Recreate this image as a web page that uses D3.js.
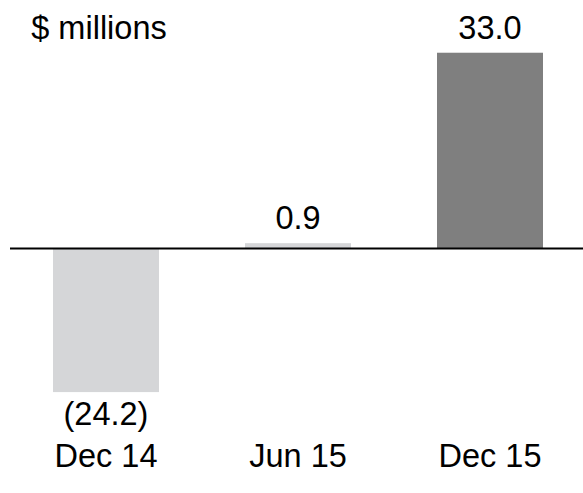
<!DOCTYPE html>
<html><head><meta charset="utf-8">
<script src="https://cdn.jsdelivr.net/npm/d3@7"></script>
<style>html,body{margin:0;padding:0;background:#fff;}svg{display:block;}</style>
</head><body><svg id="c" width="583" height="493"></svg>
<script>
const categories = ["Dec 14", "Jun 15", "Dec 15"];
const values = [-24.2, 0.9, 33.0];
const colors = ["#d5d6d8", "#d5d6d8", "#7f7f7f"];
const unitLabel = "$ millions";

const svg = d3.select("#c");
const font = "Liberation Sans, Arial, sans-serif";
const fs = 32.5;

const x = d3.scaleBand().domain(categories).range([10, 586]).paddingInner(0.448).paddingOuter(0.224);
const y = d3.scaleLinear().domain([-30, 40]).range([426.5, 11.2]);

const fmt = v => v < 0 ? "(" + d3.format(".1f")(-v) + ")" : d3.format(".1f")(v);

svg.selectAll("rect.bar").data(values).join("rect")
  .attr("class", "bar")
  .attr("x", (d, i) => x(categories[i]))
  .attr("width", x.bandwidth())
  .attr("y", d => y(Math.max(0, d)))
  .attr("height", d => Math.abs(y(d) - y(0)))
  .attr("fill", (d, i) => colors[i]);

svg.append("line")
  .attr("x1", 10).attr("x2", 583)
  .attr("y1", y(0)).attr("y2", y(0))
  .attr("stroke", "#000").attr("stroke-width", 2);

svg.selectAll("text.val").data(values).join("text")
  .attr("class", "val")
  .attr("x", (d, i) => x(categories[i]) + x.bandwidth() / 2)
  .attr("y", d => d >= 0 ? y(d) - 14 : y(d) + 33)
  .attr("text-anchor", "middle")
  .attr("font-family", font).attr("font-size", fs).attr("fill", "#000")
  .text(d => fmt(d));

svg.selectAll("text.cat").data(categories).join("text")
  .attr("class", "cat")
  .attr("x", d => x(d) + x.bandwidth() / 2)
  .attr("y", 467)
  .attr("text-anchor", "middle")
  .attr("font-family", font).attr("font-size", fs).attr("fill", "#000")
  .text(d => d);

svg.append("text")
  .attr("x", 99).attr("y", 39)
  .attr("text-anchor", "middle")
  .attr("font-family", font).attr("font-size", fs).attr("fill", "#000")
  .text(unitLabel);
</script></body></html>
